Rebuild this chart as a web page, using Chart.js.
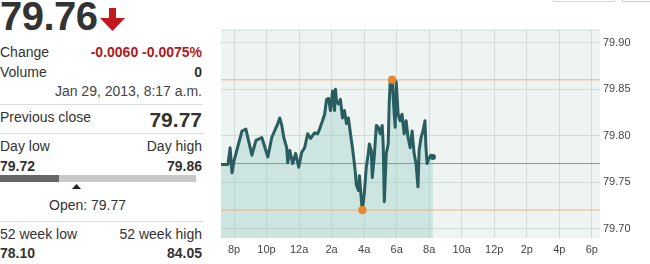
<!DOCTYPE html>
<html>
<head>
<meta charset="utf-8">
<script src="https://cdn.jsdelivr.net/npm/chart.js@4.4.1/dist/chart.umd.min.js"></script>
<style>
	body { margin: 0; width: 650px; height: 264px; overflow: hidden; background: #fff; position: relative;
		font-family: "Liberation Sans", Arial, sans-serif; color: #333; }
	.t { position: absolute; font-size: 14px; white-space: nowrap; line-height: normal; }
	.l { left: 0; }
	.r { right: 448px; }
	.b { font-weight: bold; }
	.sep { position: absolute; left: 0; width: 203px; height: 1px; background: #dcdcdc; }
	#wrap { position: absolute; left: 210px; top: 20px; width: 440px; height: 244px; }
</style>
</head>
<body>
<div class="t l b" style="top:-6px;font-size:40px;color:#333;letter-spacing:-0.5px">79.76</div>
<svg style="position:absolute;left:100px;top:8px" width="25" height="24" viewBox="0 0 25 24">
	<rect x="9" y="0" width="7" height="12" fill="#c0181c"/>
	<polygon points="0,10 25,10 12.5,23" fill="#c0181c"/>
</svg>
<div class="t l" style="top:44px">Change</div>
<div class="t r b" style="top:44px;color:#b0181c">-0.0060 -0.0075%</div>
<div class="t l" style="top:64px">Volume</div>
<div class="t r b" style="top:64px">0</div>
<div class="t r" style="top:83px;color:#444">Jan 29, 2013, 8:17 a.m.</div>
<div class="sep" style="top:104px"></div>
<div class="t l" style="top:109px">Previous close</div>
<div class="t r b" style="top:108px;font-size:21px">79.77</div>
<div class="sep" style="top:133px"></div>
<div class="t l" style="top:138px">Day low</div>
<div class="t r" style="top:138px">Day high</div>
<div class="t l b" style="top:158px">79.72</div>
<div class="t r b" style="top:158px">79.86</div>
<div style="position:absolute;left:0;top:175px;width:59px;height:7px;background:#666"></div>
<div style="position:absolute;left:59px;top:175px;width:137px;height:7px;background:#c8c8c8"></div>
<svg style="position:absolute;left:72px;top:184px" width="9" height="5"><polygon points="0,5 9,5 4.5,0" fill="#222"/></svg>
<div class="t" style="top:197px;left:49px">Open: 79.77</div>
<div class="sep" style="top:221px"></div>
<div class="t l" style="top:226px">52 week low</div>
<div class="t r" style="top:226px">52 week high</div>
<div class="t l b" style="top:245px">78.10</div>
<div class="t r b" style="top:245px">84.05</div>
<div style="position:absolute;left:553px;top:-20px;width:60px;height:20px;border:1px solid #d8d8d8"></div>
<div style="position:absolute;left:622px;top:-20px;width:40px;height:20px;border:1px solid #cfcfcf"></div>
<div id="wrap"><canvas id="myChart"></canvas></div>
<script>
// hours after 6 p.m. on Jan 28, and last trade prices
var times = [1.20, 1.63, 1.76, 1.88, 2.00, 2.49, 2.73, 3.10, 3.35, 3.71, 4.08, 4.32, 4.57, 4.69, 4.81, 4.94,
	5.06, 5.24, 5.30, 5.43, 5.61, 5.79, 5.98, 6.16, 6.34, 6.53, 6.71, 6.95, 7.14, 7.26, 7.44, 7.57,
	7.69, 7.81, 7.93, 8.06, 8.18, 8.24, 8.30, 8.42, 8.54, 8.67, 8.79, 8.91, 9.03, 9.16, 9.28, 9.40,
	9.46, 9.52, 9.65, 9.71, 9.83, 9.89, 10.01, 10.13, 10.26, 10.32, 10.44, 10.50, 10.62, 10.75, 10.87,
	10.99, 11.11, 11.17, 11.24, 11.36, 11.48, 11.54, 11.60, 11.72, 11.85, 11.91, 11.97, 12.09, 12.21,
	12.33, 12.46, 12.58, 12.70, 12.83, 12.95, 13.07, 13.19, 13.31, 13.38, 13.50, 13.62, 13.74, 13.80,
	13.87, 13.99, 14.11, 14.23];
var prices = [79.769, 79.769, 79.787, 79.760, 79.773, 79.805, 79.807, 79.779, 79.795, 79.798, 79.777, 79.798,
	79.808, 79.813, 79.819, 79.811, 79.798, 79.787, 79.771, 79.784, 79.770, 79.781, 79.766, 79.782,
	79.787, 79.802, 79.797, 79.803, 79.802, 79.807, 79.816, 79.823, 79.839, 79.840, 79.827, 79.848,
	79.827, 79.850, 79.837, 79.834, 79.839, 79.819, 79.827, 79.813, 79.819, 79.802, 79.787, 79.770,
	79.760, 79.747, 79.741, 79.757, 79.731, 79.720, 79.738, 79.766, 79.781, 79.791, 79.784, 79.755,
	79.777, 79.811, 79.809, 79.802, 79.811, 79.791, 79.729, 79.781, 79.791, 79.834, 79.858, 79.860,
	79.823, 79.809, 79.858, 79.823, 79.816, 79.823, 79.802, 79.816, 79.798, 79.787, 79.805, 79.781,
	79.770, 79.745, 79.784, 79.798, 79.805, 79.816, 79.787, 79.770, 79.776, 79.779, 79.777];
var prevClose = 79.77;
var dayHigh = 79.86;
var dayLow = 79.72;
var highTime = 11.72;
var lowTime = 9.89;
var xTickHours = [2, 4, 6, 8, 10, 12, 14, 16, 18, 20, 22, 24];
var xTickLabels = ["8p", "10p", "12a", "2a", "4a", "6a", "8a", "10a", "12p", "2p", "4p", "6p"];
var yTicks = [79.70, 79.75, 79.80, 79.85, 79.90];
var xMin = 1.2, xMax = 24.5;

var plotBg = {
	id: "plotBg",
	beforeDraw: function(chart) {
		var a = chart.chartArea, c = chart.ctx;
		c.save();
		c.fillStyle = "#eef4f1";
		c.fillRect(a.left, a.top, a.right - a.left, a.bottom - a.top);
		c.strokeStyle = "#d6dcda";
		c.lineWidth = 1;
		c.beginPath();
		c.moveTo(a.left, a.top + 0.5);
		c.lineTo(a.right, a.top + 0.5);
		c.stroke();
		c.restore();
	}
};

function flat(v) {
	return [{ x: xMin, y: v }, { x: xMax, y: v }];
}

new Chart("myChart", {
	type: "line",
	data: {
		datasets: [{
			data: times.map(function(t, i) { return { x: t, y: prices[i] }; }),
			borderColor: "#295d60",
			borderWidth: 3,
			borderJoinStyle: "round",
			backgroundColor: "rgba(140,200,192,0.35)",
			fill: "start",
			pointRadius: function(ctx) { return ctx.dataIndex === prices.length - 1 ? 3 : 0; },
			pointBackgroundColor: "#295d60",
			pointBorderWidth: 0,
			order: 1
		}, {
			data: flat(prevClose),
			borderColor: "#8c9694",
			borderWidth: 1,
			pointRadius: 0,
			fill: false,
			order: 2
		}, {
			data: flat(dayHigh),
			borderColor: "#f2b27c",
			borderWidth: 1,
			pointRadius: 0,
			fill: false,
			order: 2
		}, {
			data: flat(dayLow),
			borderColor: "#f2b27c",
			borderWidth: 1,
			pointRadius: 0,
			fill: false,
			order: 2
		}, {
			data: [{ x: highTime, y: dayHigh }, { x: lowTime, y: dayLow }],
			showLine: false,
			pointRadius: 4,
			pointBackgroundColor: "#e8882c",
			pointBorderColor: "rgba(232,136,44,0.35)",
			pointBorderWidth: 1,
			fill: false,
			order: 0
		}]
	},
	options: {
		responsive: true,
		maintainAspectRatio: false,
		animation: false,
		layout: { padding: { left: 11, top: 8, right: 0, bottom: 0 } },
		plugins: {
			legend: { display: false },
			tooltip: { enabled: false },
			filler: { drawTime: "beforeDatasetsDraw" }
		},
		scales: {
			x: {
				type: "linear",
				min: xMin,
				max: xMax,
				afterBuildTicks: function(s) { s.ticks = xTickHours.map(function(h) { return { value: h }; }); },
				afterFit: function(s) { s.height = 26; },
				border: { display: false },
				grid: { color: "#d3dbd8", drawTicks: false },
				ticks: {
					padding: 5,
					color: "#444",
					font: { family: "Liberation Sans", size: 11 },
					maxRotation: 0,
					callback: function(v) { return xTickLabels[xTickHours.indexOf(v)]; }
				}
			},
			y: {
				position: "right",
				min: 79.690,
				max: 79.914,
				afterBuildTicks: function(s) { s.ticks = yTicks.map(function(v) { return { value: v }; }); },
				afterFit: function(s) { s.width = 50; },
				border: { display: false },
				grid: { color: "#d3dbd8", drawTicks: false },
				ticks: {
					padding: 3,
					color: "#444",
					font: { family: "Liberation Sans", size: 11 },
					callback: function(v) { return v.toFixed(2); }
				}
			}
		}
	},
	plugins: [plotBg]
});
</script>
</body>
</html>
